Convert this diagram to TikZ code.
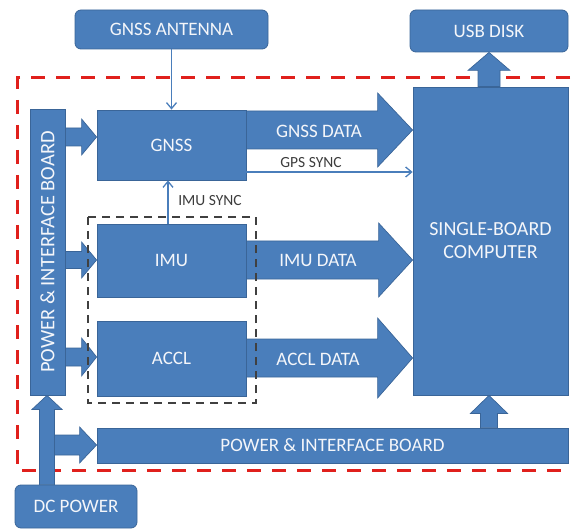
\documentclass[tikz,border=0pt]{standalone}
\usepackage{fontspec}
\setmainfont{Carlito}
\usetikzlibrary{calc,arrows.meta}
\definecolor{boxblue}{HTML}{4A7EBB}
\definecolor{boxedge}{HTML}{3A6598}
\definecolor{boxtext}{HTML}{F4F6FA}
\definecolor{synctext}{HTML}{3C3C3C}
\definecolor{dashred}{HTML}{E0201C}
\tikzset{
  blk/.style={draw=boxedge, line width=0.8pt, fill=boxblue, text=boxtext,
    font=\fontsize{19}{21}\selectfont, align=center, inner sep=0pt},
  rbox/.style={blk, rounded corners=6pt},
  barrow/.style={draw=boxedge, line width=0.7pt, fill=boxblue},
  lbl/.style={text=boxtext, font=\fontsize{19}{21}\selectfont, inner sep=0pt},
  synclbl/.style={text=synctext, font=\fontsize{15.5}{17}\selectfont, inner sep=0pt},
  thin/.style={draw=boxblue, line width=1.3pt, -{Straight Barb[length=6pt,width=10pt]}},
}
% horizontal block arrow: from, to, y, shaft half, head half, head length
\newcommand{\rarrow}[6]{%
  \draw[barrow] let \p1=(#1.east), \p2=(#2.west) in
    (\x1,{-#3pt+#4pt}) -- ({\x2-#6pt},{-#3pt+#4pt}) -- ({\x2-#6pt},{-#3pt+#5pt})
    -- (\x2,{-#3pt}) -- ({\x2-#6pt},{-#3pt-#5pt}) -- ({\x2-#6pt},{-#3pt-#4pt})
    -- (\x1,{-#3pt-#4pt}) -- cycle;}
% vertical block arrow: from (below), to (above), x, shaft half, head half, head length
\newcommand{\uarrow}[6]{%
  \draw[barrow] let \p1=(#1.north), \p2=(#2.south) in
    ({#3pt-#4pt},\y1) -- ({#3pt-#4pt},{\y2-#6pt}) -- ({#3pt-#5pt},{\y2-#6pt})
    -- (#3pt,\y2) -- ({#3pt+#5pt},{\y2-#6pt}) -- ({#3pt+#4pt},{\y2-#6pt})
    -- ({#3pt+#4pt},\y1) -- cycle;}
\begin{document}
\begin{tikzpicture}[x=1pt,y=-1pt]
\useasboundingbox (0,0) rectangle (575,529);

% system boundary (right side hidden behind the computer)
\draw[dashred, line width=3pt, dash pattern=on 14pt off 11pt]
  (570,78) -- (17,78) -- (17,470) -- (570,470);

% boxes
\node[rbox, minimum width=193pt, minimum height=39pt] (ant) at (171.5,29.5) {GNSS ANTENNA};
\node[rbox, minimum width=158pt, minimum height=42pt] (usb) at (489,31) {USB DISK};
\node[rbox, minimum width=122pt, minimum height=43pt] (dc) at (76,506.5) {DC POWER};
\node[blk, minimum width=35pt, minimum height=286pt] (vpib) at (47.5,252) {};
\node[lbl, rotate=90, font=\fontsize{20.5}{22}\selectfont] (vpibtxt) at (vpib.center) {POWER \& INTERFACE BOARD};
\node[blk, minimum width=149pt, minimum height=70pt] (gnss) at (171.5,145) {GNSS};
\node[blk, minimum width=149pt, minimum height=73pt] (imu) at (171.5,260.5) {IMU};
\node[blk, minimum width=149pt, minimum height=75pt] (accl) at (171.5,358.5) {ACCL};
\node[blk, minimum width=155pt, minimum height=308pt, font=\fontsize{20}{23}\selectfont] (sbc) at (490.5,241) {SINGLE-BOARD\\COMPUTER};
\node[blk, minimum width=471pt, minimum height=35pt] (hpib) at (332.5,445.5) {POWER \& INTERFACE BOARD};

% power distribution
\coordinate (tap) at (47,445);
\rarrow{tap}{hpib}{445}{10}{18}{17}
\uarrow{dc}{vpib}{47}{7.5}{15}{14}
\rarrow{vpib}{gnss}{137}{9}{18}{15}
\rarrow{vpib}{imu}{260}{8.5}{18}{15}
\rarrow{vpib}{accl}{357}{9}{19}{15}
\uarrow{hpib}{sbc}{489}{8.5}{18.5}{18}

% data paths
\rarrow{gnss}{sbc}{130}{19}{37}{35}
\rarrow{imu}{sbc}{260}{19}{37}{34}
\rarrow{accl}{sbc}{358}{19}{40}{35}
\uarrow{sbc}{usb}{489}{11}{21}{18}
\node[lbl] (gnssdata) at (319,131) {GNSS DATA};
\node[lbl] (imudata) at (318,260) {IMU DATA};
\node[lbl] (accldata) at (318,359) {ACCL DATA};

% sensor group
\draw[black!75, line width=1.8pt, dash pattern=on 8pt off 6pt] (88,217) rectangle (256,403);

% signal lines
\draw[thin] (ant.south) -- (gnss.north);
\draw[thin] (imu.north -| 168,0) -- (gnss.south -| 168,0);
\draw[thin] (gnss.east |- 0,172) -- (sbc.west |- 0,172);
\node[synclbl] (gpssync) at (311,163) {GPS SYNC};
\node[synclbl] (imusync) at (210,201) {IMU SYNC};
\end{tikzpicture}
\end{document}
